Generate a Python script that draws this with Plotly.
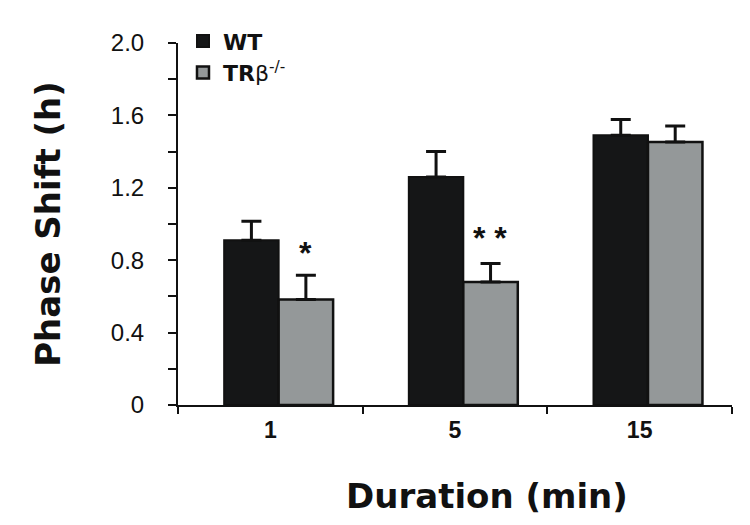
import plotly.graph_objects as go

durations = ["1", "5", "15"]
wt_mean = [0.91, 1.26, 1.49]
wt_err = [0.105, 0.14, 0.087]
tr_mean = [0.583, 0.679, 1.453]
tr_err = [0.134, 0.103, 0.088]
sig_marks = ["*", "* *", ""]
sig_y = [0.84, 0.925, None]
y_ticks = [0, 0.4, 0.8, 1.2, 1.6, 2.0]
y_tick_labels = ["0", "0.4", "0.8", "1.2", "1.6", "2.0"]

FONT = "Liberation Sans, Arial, sans-serif"
TITLE_FONT = "DejaVu Sans, sans-serif"

fig = go.Figure()
fig.add_trace(go.Bar(
    x=durations, y=wt_mean, name="<b>WT</b>",
    marker=dict(color="#151617", line=dict(color="#111111", width=2)),
    width=0.295, offset=-0.25,
    error_y=dict(type="data", array=wt_err, arrayminus=[0] * 3, symmetric=False,
                 color="#111111", thickness=3, width=10),
))
fig.add_trace(go.Bar(
    x=durations, y=tr_mean, name="<b>TR</b><span style='font-weight:normal'>β<sup>-/-</sup></span>",
    marker=dict(color="#949899", line=dict(color="#111111", width=2.5)),
    width=0.295, offset=0.045,
    error_y=dict(type="data", array=tr_err, arrayminus=[0] * 3, symmetric=False,
                 color="#111111", thickness=3, width=10),
))

for i, (mark, yy) in enumerate(zip(sig_marks, sig_y)):
    if mark:
        fig.add_annotation(x=i, y=yy, text="<b>%s</b>" % mark, showarrow=False, xshift=35,
                           yanchor="middle",
                           font=dict(family=FONT, size=32, color="#111111"))

fig.add_annotation(xref="paper", yref="paper", x=(487 - 178) / 554, y=-0.25,
                   text="<b>Duration (min)</b>", showarrow=False,
                   xanchor="center", yanchor="middle",
                   font=dict(family=TITLE_FONT, size=34, color="#111111"))

fig.update_layout(
    width=750, height=525,
    margin=dict(l=170, r=26, t=35, b=128),
    paper_bgcolor="white", plot_bgcolor="white",
    barmode="group",
    showlegend=True,
    legend=dict(x=0.009, y=1.063, xanchor="left", yanchor="top",
                font=dict(family=TITLE_FONT, size=22, color="#111111"),
                bgcolor="rgba(0,0,0,0)", tracegroupgap=0, itemwidth=30),
    font=dict(family=FONT, color="#111111"),
)
fig.update_xaxes(
    type="category", automargin=False,
    showline=True, linecolor="#111111", linewidth=2,
    ticks="outside", ticklen=7, tickwidth=2, tickcolor="#111111",
    tickson="boundaries", showgrid=False,
    tickfont=dict(family=FONT, size=23, color="#111111"),
    tickvals=durations, ticktext=["<b>%s</b>" % d for d in durations],
    ticklabelstandoff=3,
)
fig.update_yaxes(
    range=[0, 2.0], automargin=False,
    showline=True, linecolor="#111111", linewidth=2,
    ticks="outside", ticklen=8, tickwidth=2, tickcolor="#111111",
    tickvals=y_ticks, ticktext=y_tick_labels, showgrid=False, zeroline=False,
    minor=dict(dtick=0.2, ticks="outside", ticklen=8, tickwidth=2, tickcolor="#111111", showgrid=False),
    tickfont=dict(family=FONT, size=24, color="#111111"),
    ticklabelstandoff=19,
    title=dict(text="<b>Phase Shift (h)</b>", standoff=40,
               font=dict(family=TITLE_FONT, size=34, color="#111111")),
)

fig.write_html("out.html")
